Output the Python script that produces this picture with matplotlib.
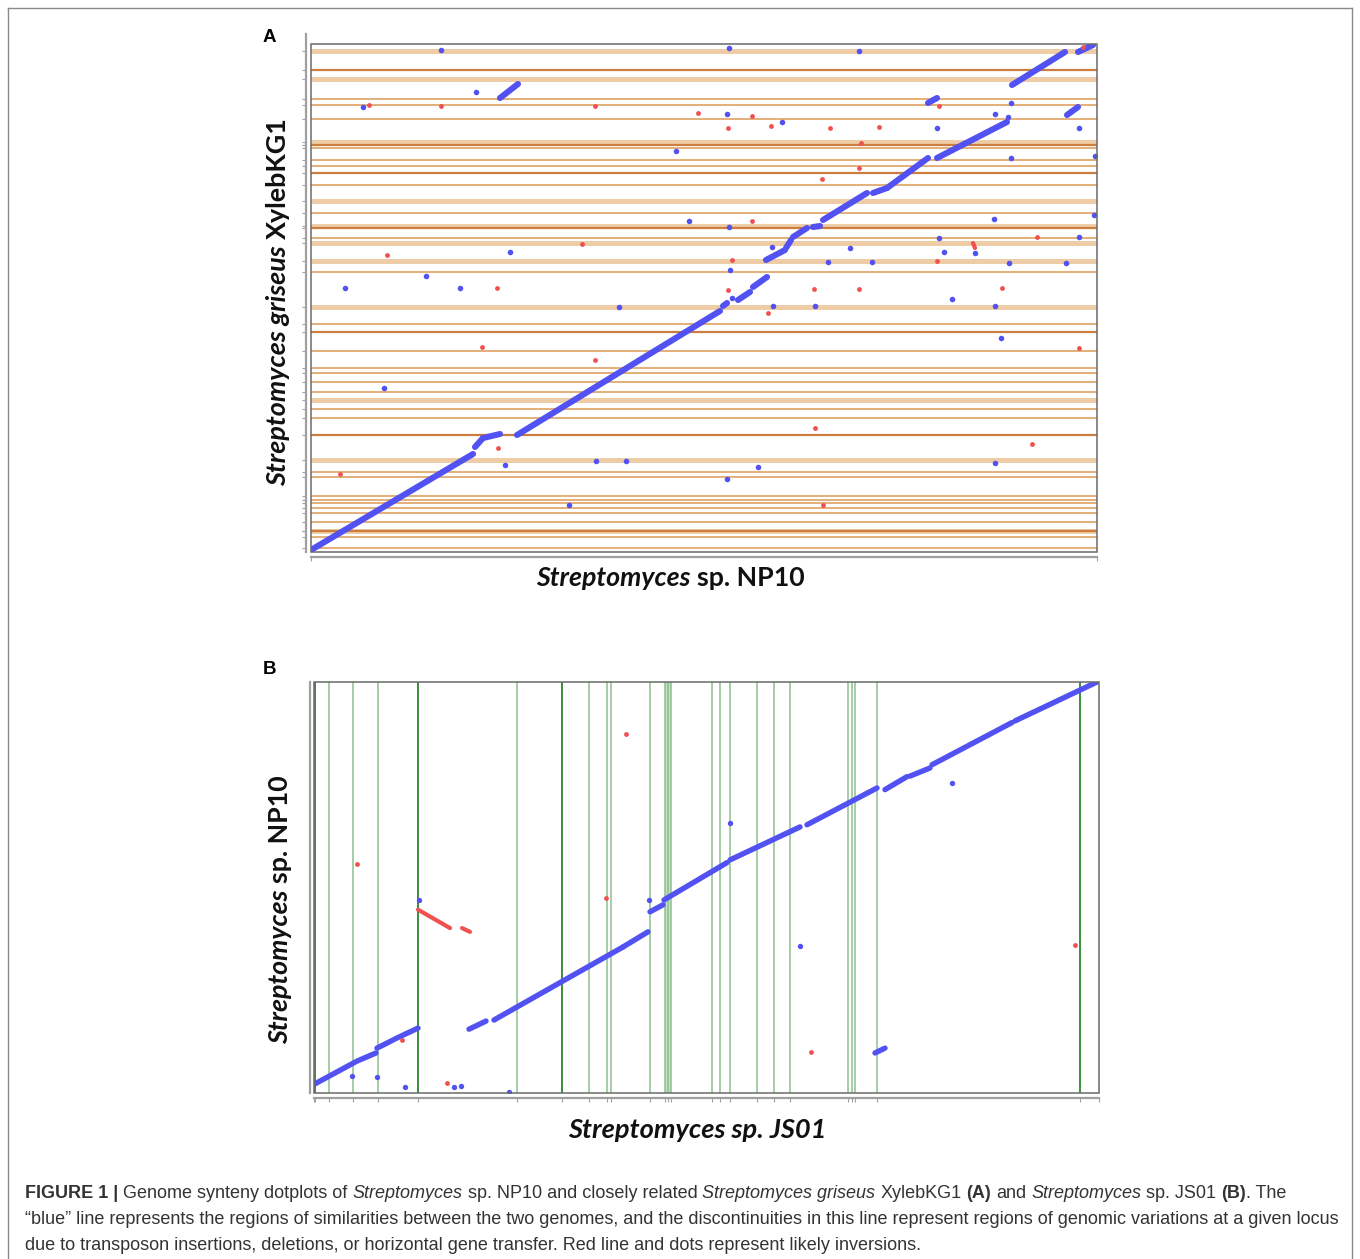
import matplotlib
matplotlib.use('Agg')
import matplotlib.pyplot as plt
from matplotlib.patches import Rectangle
from matplotlib.lines import Line2D

W, H = 1360, 1259
fig = plt.figure(figsize=(13.6, 12.59), dpi=100)
R = fig.canvas.get_renderer()

def fx(px):
    return px / W

def fy(py):
    return 1 - py / H

# ---------------- DATA (genome positions, Mb) ----------------
# Panel A: Streptomyces sp. NP10 (x) vs S. griseus XylebKG1 (y)
A_XLEN, A_YLEN = 7.86, 7.62
A_seg_x0 = [0.00, 1.64, 1.72, 2.06, 4.12, 4.27, 4.42, 4.55, 4.75, 4.82, 5.02, 5.12, 5.62, 5.76, 6.26, 7.01, 7.67, 6.17, 7.56, 1.89]
A_seg_y0 = [0.03, 1.575, 1.71, 1.755, 3.69, 3.78, 3.975, 4.38, 4.56, 4.725, 4.875, 4.98, 5.385, 5.46, 5.91, 7.005, 7.50, 6.735, 6.555, 6.81]
A_seg_x1 = [1.62, 1.72, 1.89, 4.09, 4.16, 4.39, 4.56, 4.74, 4.80, 4.96, 5.09, 5.56, 5.76, 6.17, 6.96, 7.54, 7.82, 6.26, 7.67, 2.07]
A_seg_y1 = [1.47, 1.71, 1.77, 3.615, 3.735, 3.90, 4.125, 4.53, 4.68, 4.86, 4.89, 5.385, 5.46, 5.91, 6.45, 7.50, 7.605, 6.81, 6.675, 7.02]
A_red_seg_x0 = [6.62]
A_red_seg_y0 = [4.635]
A_red_seg_x1 = [6.64]
A_red_seg_y1 = [4.56]
A_blue_x = [1.30, 1.65, 0.52, 3.65, 3.78, 1.99, 1.15, 0.34, 1.49, 3.08, 4.18, 5.48, 4.16, 4.71, 6.26,
            7.00, 6.84, 6.97, 7.68, 7.84, 7.00, 4.18, 6.83, 7.83, 7.68, 6.28, 5.39, 6.33, 6.64, 4.61,
            5.17, 5.61, 6.98, 7.55, 4.19, 6.41, 4.21, 4.62, 5.04, 6.84, 6.90, 6.84, 4.47, 4.16, 0.73,
            1.94, 2.85, 3.15, 2.58]
A_blue_y = [7.53, 6.90, 6.675, 6.015, 4.965, 4.50, 4.14, 3.96, 3.96, 3.675, 7.56, 7.515, 6.57, 6.45, 6.36,
            6.735, 6.57, 6.525, 6.36, 5.94, 5.91, 4.875, 4.995, 5.055, 4.725, 4.71, 4.56, 4.50, 4.485, 4.575,
            4.35, 4.35, 4.335, 4.335, 4.23, 3.795, 3.81, 3.69, 3.69, 3.69, 3.21, 1.335, 1.275, 1.095, 2.46,
            1.305, 1.365, 1.365, 0.705]
A_red_x = [0.58, 1.30, 2.84, 3.87, 2.71, 0.76, 1.86, 4.41, 4.17, 4.60, 5.19, 5.68, 6.28, 5.50, 5.48,
           5.11, 4.41, 7.26, 4.21, 6.26, 4.17, 5.03, 5.48, 6.91, 4.57, 7.68, 5.04, 7.21, 5.12, 1.71,
           2.84, 1.87, 0.29, 7.72]
A_red_y = [6.705, 6.69, 6.69, 6.585, 4.62, 4.455, 3.96, 6.54, 6.36, 6.39, 6.36, 6.375, 6.69, 6.135, 5.76,
           5.595, 4.965, 4.725, 4.38, 4.365, 3.93, 3.945, 3.945, 3.96, 3.585, 3.06, 1.86, 1.62, 0.705, 3.075,
           2.88, 1.56, 1.17, 7.575]
# contig boundaries of XylebKG1 (orange horizontal lines)
A_thin_y = [6.80, 6.71, 6.50, 6.06, 5.88, 5.79, 5.51, 5.09, 4.71, 4.20, 3.42, 3.02, 2.76, 2.69, 2.55,
            2.40, 2.15, 2.01, 1.20, 1.13, 0.84, 0.78, 0.74, 0.66, 0.59, 0.45, 0.23, 0.06]
A_band_y = [7.52, 7.09, 6.15, 5.27, 4.89, 4.63, 4.37, 3.68, 2.28, 1.38, 0.31]
A_dark_y = [7.23, 6.11, 5.69, 4.86, 3.30, 1.76, 0.32]

# Panel B: Streptomyces sp. JS01 (x) vs Streptomyces sp. NP10 (y)
B_XLEN, B_YLEN = 7.85, 7.60
B_seg_x0 = [0.01, 0.43, 0.63, 0.81, 1.55, 1.80, 3.09, 3.36, 3.50, 4.16, 4.93, 5.71, 5.96, 6.18, 7.01, 5.61]
B_seg_y0 = [0.17, 0.59, 0.83, 1.00, 1.18, 1.35, 2.70, 3.35, 3.57, 4.31, 4.96, 5.61, 5.86, 6.07, 6.88, 0.74]
B_seg_x1 = [0.41, 0.62, 0.79, 1.04, 1.72, 3.09, 3.34, 3.49, 4.13, 4.86, 5.63, 5.93, 6.16, 6.98, 7.83, 5.71]
B_seg_y1 = [0.57, 0.74, 0.98, 1.20, 1.33, 2.70, 2.98, 3.48, 4.26, 4.92, 5.64, 5.85, 6.01, 6.85, 7.60, 0.83]
B_red_seg_x0 = [1.04, 1.48]
B_red_seg_y0 = [3.39, 3.05]
B_red_seg_x1 = [1.36, 1.56]
B_red_seg_y1 = [3.05, 2.98]
B_blue_x = [1.05, 3.35, 0.38, 0.63, 0.91, 1.40, 1.47, 1.95, 4.16, 6.38, 4.86]
B_blue_y = [3.57, 3.57, 0.31, 0.30, 0.11, 0.11, 0.13, 0.02, 5.00, 5.74, 2.72]
B_red_x = [0.43, 3.12, 2.92, 0.88, 1.33, 7.61, 4.97]
B_red_y = [4.24, 6.64, 3.61, 0.98, 0.19, 2.74, 0.76]
# contig boundaries of JS01 (green vertical lines)
B_thin_x = [0.15, 0.39, 0.64, 2.03, 2.75, 2.93, 2.97, 3.36, 3.51, 3.54, 3.57, 3.98, 4.06, 4.16, 4.43,
            4.60, 4.76, 5.34, 5.38, 5.41, 5.63]
B_dark_x = [0.01, 1.04, 2.48, 7.66]
B_band_x = [(3.51, 3.57)]

# ---------------- STYLE ----------------
BLUE = '#5252F2'
RED = '#F05050'
OR_THIN = '#DFA264'
OR_BAND = '#EDCCA6'
OR_DARK = '#CD7E3E'
GR_THIN = '#8DC08D'
GR_DARK = '#3A8E3A'
SPINE = '#A0A0A0'
FRAME = '#6A6A6A'


def style_axes(ax, xlen, ylen, left_off, bottom_off):
    ax.set_xlim(0, xlen)
    ax.set_ylim(0, ylen)
    for s in ('top', 'right'):
        ax.spines[s].set_visible(False)
    ax.spines['left'].set_position(('outward', left_off))
    ax.spines['bottom'].set_position(('outward', bottom_off))
    for s in ('left', 'bottom'):
        ax.spines[s].set_color(SPINE)
        ax.spines[s].set_linewidth(1.6)
    ax.add_patch(Rectangle((0, 0), 1, 1, transform=ax.transAxes, fill=False,
                           ec=FRAME, lw=1.1, zorder=6, clip_on=False))
    ax.tick_params(which='both', colors=SPINE, length=3, width=0.8,
                   labelleft=False, labelbottom=False)


def draw_segments(ax, x0, y0, x1, y1, color, lw):
    for a, b, c, d in zip(x0, y0, x1, y1):
        ax.plot([a, c], [b, d], color=color, lw=lw, solid_capstyle='round', zorder=4)


# ---------------- PANEL A ----------------
axA = fig.add_axes([fx(311), fy(552), (1097 - 311) / W, (552 - 44) / H])
style_axes(axA, A_XLEN, A_YLEN, 3.6, 3.6)
axA.spines['left'].set_bounds(0, A_YLEN * 1.02)
axA.hlines(A_band_y, 0, A_XLEN, color=OR_BAND, lw=3.6, zorder=1)
axA.hlines(A_thin_y, 0, A_XLEN, color=OR_THIN, lw=1.2, zorder=2)
axA.hlines(A_dark_y, 0, A_XLEN, color=OR_DARK, lw=1.6, zorder=2)
axA.set_yticks(sorted(A_thin_y + A_band_y + A_dark_y))
axA.set_xticks([0, A_XLEN])
draw_segments(axA, A_seg_x0, A_seg_y0, A_seg_x1, A_seg_y1, BLUE, 4.4)
draw_segments(axA, A_red_seg_x0, A_red_seg_y0, A_red_seg_x1, A_red_seg_y1, RED, 3.0)
axA.scatter(A_blue_x, A_blue_y, s=16, color=BLUE, lw=0, zorder=5)
axA.scatter(A_red_x, A_red_y, s=12, color=RED, lw=0, zorder=5)

# ---------------- PANEL B ----------------
axB = fig.add_axes([fx(314), fy(1093), (1099 - 314) / W, (1093 - 682) / H])
style_axes(axB, B_XLEN, B_YLEN, 3.0, 3.6)
for a, b in B_band_x:
    axB.axvspan(a, b, color='#C5E0C5', lw=0, zorder=1)
axB.vlines(B_thin_x, 0, B_YLEN, color=GR_THIN, lw=1.1, zorder=2)
axB.vlines(B_dark_x, 0, B_YLEN, color=GR_DARK, lw=1.4, zorder=2)
axB.set_xticks(sorted([0, B_XLEN] + B_thin_x + B_dark_x))
axB.set_yticks([])
draw_segments(axB, B_seg_x0, B_seg_y0, B_seg_x1, B_seg_y1, BLUE, 3.9)
draw_segments(axB, B_red_seg_x0, B_red_seg_y0, B_red_seg_x1, B_red_seg_y1, RED, 3.0)
axB.scatter(B_blue_x, B_blue_y, s=15, color=BLUE, lw=0, zorder=5)
axB.scatter(B_red_x, B_red_y, s=12, color=RED, lw=0, zorder=5)


# ---------------- RICH TEXT HELPER ----------------
def _w(s, kw):
    t = fig.text(0, 0, s, **kw)
    w = t.get_window_extent(renderer=R).width
    t.remove()
    return w


def rich(pieces, x_px, y_px, size, family, color, rotation=0, align='center',
         target=None, va='center'):
    def total(sz):
        tot = 0
        for s, wt, st in pieces:
            kw = dict(fontsize=sz, family=family, weight=wt, style=st)
            sp = _w('n n', kw) - _w('nn', kw)
            core = s.strip(' ')
            lead = len(s) - len(s.lstrip(' '))
            trail = len(s) - len(s.rstrip(' '))
            tot += lead * sp + (_w(core, kw) if core else 0) + trail * sp
        return tot
    if target is not None:
        size = size * target / total(size)
    tot = total(size)
    start = -tot / 2 if align == 'center' else 0
    off = start
    for s, wt, st in pieces:
        kw = dict(fontsize=size, family=family, weight=wt, style=st)
        sp = _w('n n', kw) - _w('nn', kw)
        core = s.strip(' ')
        lead = len(s) - len(s.lstrip(' '))
        trail = len(s) - len(s.rstrip(' '))
        off += lead * sp
        if core:
            if rotation == 0:
                px, py = x_px + off, y_px
            else:
                px, py = x_px, y_px - off
            fig.text(fx(px), fy(py), core, color=color, rotation=rotation,
                     rotation_mode='anchor', ha='left', va=va, **kw)
            off += _w(core, kw)
        off += trail * sp
    return size


LBL = ['Lato', 'DejaVu Sans']
# Panel letters
fig.text(fx(269), fy(37), 'A', fontsize=13.5, weight='bold', family=['Liberation Sans', 'DejaVu Sans'],
         ha='center', va='center', color='black')
fig.text(fx(269), fy(669), 'B', fontsize=13.5, weight='bold', family=['Liberation Sans', 'DejaVu Sans'],
         ha='center', va='center', color='black')

# Axis labels
rich([('Streptomyces', 'bold', 'italic'), (' sp. NP10', 'bold', 'normal')],
     670, 578, 16, LBL, '#111111', target=270)
rich([('Streptomyces griseus', 'bold', 'italic'), (' XylebKG1', 'bold', 'normal')],
     278, 302, 16, LBL, '#111111', rotation=90, target=369)
rich([('Streptomyces', 'bold', 'italic'), (' sp. NP10', 'bold', 'normal')],
     280, 910, 16, LBL, '#111111', rotation=90, target=270)
rich([('Streptomyces sp. JS01', 'bold', 'italic')],
     697, 1130, 16, LBL, '#111111', target=259)

# Caption
CAP = ['Liberation Sans Narrow', 'Liberation Sans', 'DejaVu Sans']
cap1 = [('FIGURE 1 |', 'bold', 'normal'), (' Genome synteny dotplots of ', 'normal', 'normal'),
        ('Streptomyces', 'normal', 'italic'), (' sp. NP10 and closely related ', 'normal', 'normal'),
        ('Streptomyces griseus', 'normal', 'italic'), (' XylebKG1 ', 'normal', 'normal'),
        ('(A)', 'bold', 'normal'), (' and ', 'normal', 'normal'),
        ('Streptomyces', 'normal', 'italic'), (' sp. JS01 ', 'normal', 'normal'),
        ('(B)', 'bold', 'normal'), ('. The', 'normal', 'normal')]
cap2 = [('\u201cblue\u201d line represents the regions of similarities between the two genomes, and the '
         'discontinuities in this line represent regions of genomic variations at a given locus',
         'normal', 'normal')]
cap3 = [('due to transposon insertions, deletions, or horizontal gene transfer. Red line and dots '
         'represent likely inversions.', 'normal', 'normal')]
csz = rich(cap2, 25, 1220, 12, CAP, '#333333', align='left', target=1313)
rich(cap1, 25, 1194, csz, CAP, '#333333', align='left')
rich(cap3, 25, 1246, csz, CAP, '#333333', align='left')

# Outer frame
for xs, ys in (([8, 8], [8, 1259]), ([8, 1352], [8, 8]), ([1352, 1352], [8, 1259])):
    fig.add_artist(Line2D([fx(v) for v in xs], [fy(v) for v in ys],
                          transform=fig.transFigure, color='#8A8A8A', lw=1.0))

fig.savefig('out.png', dpi=100)
